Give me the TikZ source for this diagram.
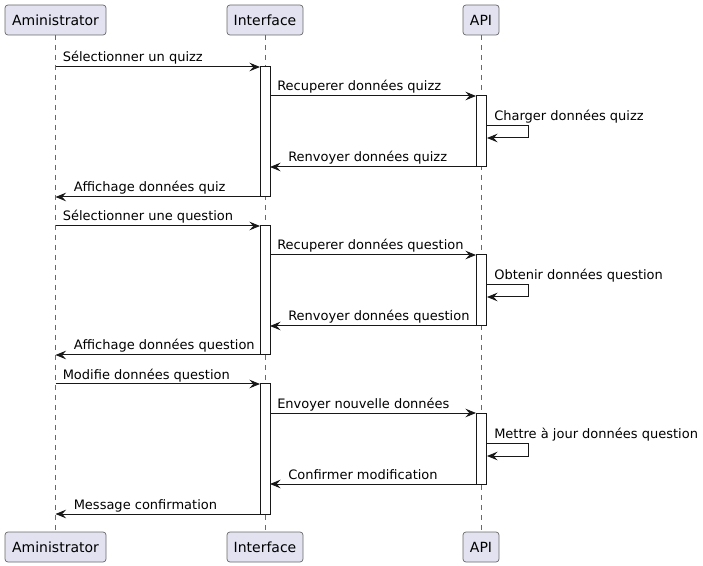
\documentclass[tikz,border=0pt]{standalone}
\usepackage{fontspec}
\setmainfont{DejaVu Sans}
\usetikzlibrary{arrows.meta,calc}
\definecolor{pfill}{HTML}{E2E2F0}
\definecolor{pline}{HTML}{181818}
\tikzset{
  part/.style={draw=pline!65, fill=pfill, rounded corners=2.2pt, line width=0.55pt,
    minimum height=22.5pt, inner sep=0pt, font=\fontsize{10.5}{12}\selectfont},
  life/.style={draw=pline!65, line width=0.5pt, dash pattern=on 3.75pt off 3.75pt},
  actbox/.style={draw=pline, fill=white, line width=0.75pt},
  msgarrow/.style={draw=pline, line width=0.75pt, -{Stealth[length=8pt,width=6.5pt,inset=3pt]}},
  msglabel/.style={anchor=base west, inner sep=0pt, font=\fontsize{9.75}{11}\selectfont, text=black}
}
\newcommand{\msgR}[5]{% name, x1, x2, y, text (left to right)
  \coordinate (#1-s) at (#2,#4);
  \coordinate (#1-e) at (#3,#4);
  \draw[msgarrow] (#1-s) -- (#1-e);
  \node[msglabel] (#1-l) at ($(#1-s)+(7,-5)$) {#5};}
\newcommand{\msgL}[5]{% name, x1(start, right), x2(end, left), y, text
  \coordinate (#1-s) at (#2,#4);
  \coordinate (#1-e) at (#3,#4);
  \draw[msgarrow] (#1-s) -- (#1-e);
  \node[msglabel] (#1-l) at ($(#1-e)+(18,-5)$) {#5};}
\newcommand{\msgS}[4]{% name, y top, y bottom, text
  \coordinate (#1-s) at (486,#2);
  \coordinate (#1-a) at (528,#2);
  \coordinate (#1-b) at (528,#3);
  \coordinate (#1-e) at (487,#3);
  \draw[msgarrow] (#1-s) -- (#1-a) -- (#1-b) -- (#1-e);
  \node[msglabel] (#1-l) at ($(#1-s)+(8,-5)$) {#4};}
\begin{document}
\begin{tikzpicture}[x=0.75pt,y=-0.75pt]
\useasboundingbox (0,0) rectangle (703,566);
% lifelines
\coordinate (la-t) at (55.5,35); \coordinate (la-b) at (55.5,532);
\coordinate (li-t) at (265,35);  \coordinate (li-b) at (265,532);
\coordinate (lp-t) at (481,35);  \coordinate (lp-b) at (481,532);
\draw[life] (la-t) -- (la-b);
\draw[life] (li-t) -- (li-b);
\draw[life] (lp-t) -- (lp-b);
% participants
\node[part, minimum width=75.75pt] (admT) at (55.5,20) {Aministrator};
\node[part, minimum width=57pt] (intT) at (265,20) {Interface};
\node[part, minimum width=27pt] (apiT) at (481,20) {API};
\node[part, minimum width=75.75pt] (admB) at (55.5,547) {Aministrator};
\node[part, minimum width=57pt] (intB) at (265,547) {Interface};
\node[part, minimum width=27pt] (apiB) at (481,547) {API};
% activations
\draw[actbox] (260,67) rectangle (270,197);
\draw[actbox] (260,226) rectangle (270,355);
\draw[actbox] (260,384) rectangle (270,514);
\draw[actbox] (476,96) rectangle (486,167);
\draw[actbox] (476,255) rectangle (486,326);
\draw[actbox] (476,413) rectangle (486,484);
% messages
\msgR{m1}{55.5}{260}{67}{Sélectionner un quizz}
\msgR{m2}{270}{476}{96}{Recuperer données quizz}
\msgS{m3}{126}{138}{Charger données quizz}
\msgL{m4}{476}{270}{167}{Renvoyer données quizz}
\msgL{m5}{260}{55.5}{197}{Affichage données quiz}
\msgR{m6}{55.5}{260}{226}{Sélectionner une question}
\msgR{m7}{270}{476}{255}{Recuperer données question}
\msgS{m8}{285}{297}{Obtenir données question}
\msgL{m9}{476}{270}{326}{Renvoyer données question}
\msgL{m10}{260}{55.5}{355}{Affichage données question}
\msgR{m11}{55.5}{260}{384}{Modifie données question}
\msgR{m12}{270}{476}{413}{Envoyer nouvelle données}
\msgS{m13}{443}{456}{Mettre à jour données question}
\msgL{m14}{476}{270}{484}{Confirmer modification}
\msgL{m15}{260}{55.5}{514}{Message confirmation}
\end{tikzpicture}
\end{document}
